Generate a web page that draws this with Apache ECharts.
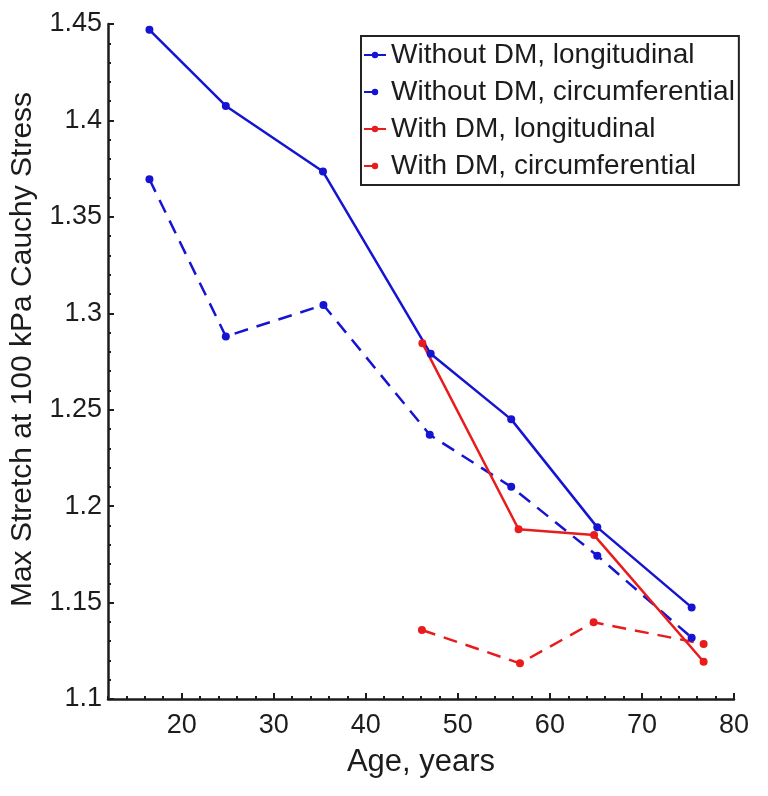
<!DOCTYPE html>
<html>
<head>
	<meta charset="utf-8"/>
	<title>Max stretch vs age</title>
	<script src="https://cdn.jsdelivr.net/npm/echarts@6/dist/echarts.min.js"></script>
	<style>
		html, body { margin: 0; padding: 0; background: #fff; }
		#chart { width: 768px; height: 796px; }
	</style>
</head>
<body>
<div id="chart"></div>
<script>
	// values
	var ageNoDmLong = [16.5, 24.8, 35.35, 47.05, 55.8, 65.15, 75.4];
	var stretchNoDmLong = [1.447, 1.4075, 1.3735, 1.279, 1.245, 1.189, 1.1475];
	var ageNoDmCirc = [16.5, 24.8, 35.4, 46.95, 55.8, 65.15, 75.4];
	var stretchNoDmCirc = [1.3695, 1.288, 1.3043, 1.237, 1.21, 1.1743, 1.1318];
	var ageDmLong = [46.15, 56.6, 64.8, 76.7];
	var stretchDmLong = [1.2845, 1.188, 1.185, 1.1193];
	var ageDmCirc = [46.1, 56.75, 64.75, 76.7];
	var stretchDmCirc = [1.1358, 1.1185, 1.1398, 1.1285];
	var xTicks = [20, 30, 40, 50, 60, 70, 80];

	var blue = '#1414d2';
	var red = '#e81c1c';
	var ink = '#1c1c1c';
	var font = '"Liberation Sans", Arial, Helvetica, sans-serif';

	function pairs(xs, ys) {
		var out = [];
		for (var i = 0; i < xs.length; i++) out.push([xs[i], ys[i]]);
		return out;
	}

	function line(name, xs, ys, color, dashed) {
		return {
			name: name,
			type: 'line',
			xAxisIndex: 0,
			data: pairs(xs, ys),
			symbol: 'circle',
			symbolSize: 8,
			itemStyle: { color: color },
			lineStyle: { color: color, width: 2.5, type: dashed ? [14, 9] : 'solid' }
		};
	}

	var chart = echarts.init(document.getElementById('chart'));
	chart.setOption({
		animation: false,
		backgroundColor: '#fff',
		textStyle: { fontFamily: font },
		grid: { left: 105, right: 34, top: 24, bottom: 97 },
		legend: {
			orient: 'vertical',
			left: 361,
			top: 36,
			padding: [5, 4, 5, 2],
			itemGap: 9,
			itemWidth: 22,
			itemHeight: 8,
			borderColor: '#222',
			borderWidth: 2,
			backgroundColor: '#fff',
			textStyle: { fontSize: 28, color: ink, fontFamily: font }
		},
		xAxis: [{
			type: 'value',
			position: 'bottom',
			min: 12,
			max: 80,
			name: 'Age, years',
			nameLocation: 'middle',
			nameGap: 48,
			nameTextStyle: { fontSize: 31, color: ink },
			axisLine: { lineStyle: { color: ink, width: 2.5 } },
			axisTick: { inside: true, length: 6, customValues: xTicks, lineStyle: { color: ink, width: 2 } },
			axisLabel: { fontSize: 27, color: ink, margin: 13, customValues: xTicks },
			splitLine: { show: false }
		}, {
			// minor ticks every 2 years
			type: 'value',
			position: 'bottom',
			min: 12,
			max: 80,
			interval: 2,
			axisLine: { show: false },
			axisTick: { inside: true, length: 3, lineStyle: { color: ink, width: 2 } },
			axisLabel: { show: false },
			splitLine: { show: false }
		}],
		yAxis: {
			type: 'value',
			min: 1.1,
			max: 1.45,
			interval: 0.05,
			name: 'Max Stretch at 100 kPa Cauchy Stress',
			nameLocation: 'middle',
			nameGap: 70,
			nameTextStyle: { fontSize: 30, color: ink, padding: [0, 0, 0, 24] },
			axisLine: { show: true, lineStyle: { color: ink, width: 2.5 } },
			axisTick: { show: true, inside: true, length: 6, lineStyle: { color: ink, width: 2 } },
			minorTick: { show: true, splitNumber: 5, length: 3, lineStyle: { color: ink, width: 2 } },
			axisLabel: {
				fontSize: 27, color: ink, margin: 6,
				formatter: function (v) { return String(Math.round(v * 100) / 100); }
			},
			splitLine: { show: false }
		},
		series: [
			line('Without DM, longitudinal', ageNoDmLong, stretchNoDmLong, blue, false),
			line('Without DM, circumferential', ageNoDmCirc, stretchNoDmCirc, blue, true),
			line('With DM, longitudinal', ageDmLong, stretchDmLong, red, false),
			line('With DM, circumferential', ageDmCirc, stretchDmCirc, red, true)
		]
	});
</script>
</body>
</html>
